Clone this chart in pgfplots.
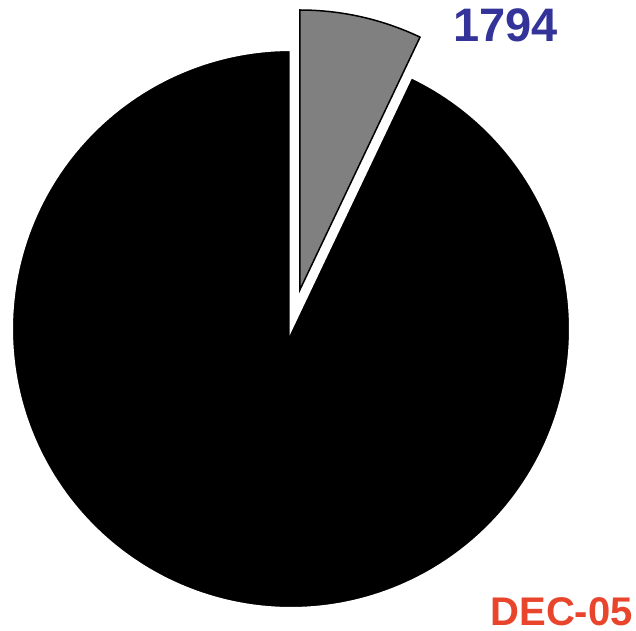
\documentclass[border=0pt]{standalone}
\usepackage{pgfplots}
\usepackage{pgfplotstable}
\usepackage{fontspec}
\setmainfont{Liberation Sans}
\pgfplotsset{compat=1.18}
\definecolor{labblue}{HTML}{333399}
\definecolor{labred}{HTML}{E8452C}
\definecolor{slicegray}{HTML}{808080}
\pgfplotstableread{
label value
other 23600
dec 1794
}\piedata
\pgfplotstablegetelem{0}{value}\of\piedata \edef\va{\pgfplotsretval}
\pgfplotstablegetelem{1}{value}\of\piedata \edef\vb{\pgfplotsretval}
\edef\ga{\fpeval{round(360*(\vb)/((\va)+(\vb)),4)}}
\edef\gstart{\fpeval{90-\ga}}
\edef\bend{\fpeval{450-\ga}}
\begin{document}%
\begin{tikzpicture}
\begin{axis}[
  name=pie,
  scale only axis, width=636bp, height=631bp,
  xmin=0, xmax=636, ymin=0, ymax=631,
  hide axis, clip=false,
]
% black slice (other)
\addplot[fill=black, draw=white, line width=3bp, domain=90:\bend, samples=240, variable=\t]
  ({291+279.5*cos(\t)}, {302+279.5*sin(\t)}) -- (291,302) -- cycle;
% gray exploded slice (1794)
\addplot[fill=slicegray, draw=black, line width=1.5bp, line join=miter, domain=\gstart:90, samples=40, variable=\t]
  ({299.8+280*cos(\t)}, {341+280*sin(\t)}) -- (299.8,341) -- cycle;
\node[anchor=base west, inner sep=0, text=labblue, font=\fontsize{47bp}{47bp}\selectfont\bfseries] at (453,589) {1794};
\node[anchor=base east, inner sep=0, text=labred, font=\fontsize{40bp}{40bp}\selectfont\bfseries] at (633,6) {DEC-05};
\end{axis}
\pgfresetboundingbox
\path (pie.south west) rectangle (pie.north east);
\end{tikzpicture}%
\end{document}
